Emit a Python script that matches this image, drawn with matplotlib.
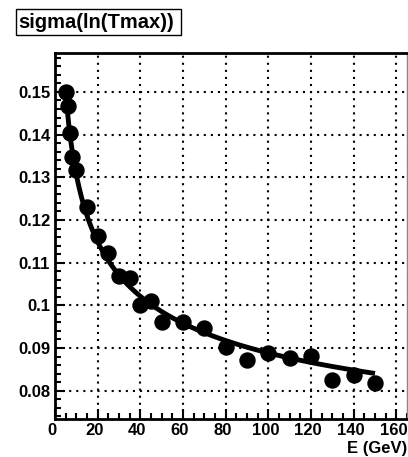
import numpy as np
import matplotlib
matplotlib.use("Agg")
import matplotlib.pyplot as plt
import matplotlib.transforms as mtransforms
from matplotlib.patches import Rectangle
from matplotlib.ticker import MultipleLocator

# Beam energy (GeV) and width of the ln(Tmax) distribution
energy = [5, 6, 7, 8, 10, 15, 20, 25, 30, 35, 40, 45, 50, 60, 70, 80, 90,
          100, 110, 120, 130, 140, 150]
sigma = [0.1500, 0.1467, 0.1404, 0.1348, 0.1318, 0.1230, 0.1162, 0.1123,
         0.1068, 0.1064, 0.1000, 0.1010, 0.0961, 0.0960, 0.0948, 0.0903,
         0.0871, 0.0889, 0.0877, 0.0881, 0.0826, 0.0836, 0.0818]

# Fit: sigma(E) = c + b * E^(-p)
fit_c, fit_b, fit_p = 0.0469, 0.167, 0.30
fit_range = (5, 150)

xticks = [0, 20, 40, 60, 80, 100, 120, 140, 160]
yticks = [0.08, 0.09, 0.10, 0.11, 0.12, 0.13, 0.14, 0.15]
ytick_labels = ["0.08", "0.09", "0.1", "0.11", "0.12", "0.13", "0.14", "0.15"]

plt.rcParams["font.family"] = ["Liberation Sans", "DejaVu Sans"]
plt.rcParams["font.weight"] = "bold"

W, H = 408, 457
fig = plt.figure(figsize=(W / 100, H / 100), dpi=100)
ax = fig.add_axes([55 / W, 1 - 419.3 / H, (407 - 55) / W, (419.3 - 52.7) / H])

ax.set_xlim(0, 165)
ax.set_ylim(0.0733, 0.1592)

ax.grid(True, which="major", color="black", linewidth=1.5,
        linestyle=(0, (1, 2.4)))
ax.set_axisbelow(True)

ef = np.linspace(fit_range[0], fit_range[1], 300)
ax.plot(ef, fit_c + fit_b * ef ** (-fit_p), color="black", lw=3.5,
        solid_capstyle="butt", zorder=3)
ax.plot(energy, sigma, "o", color="black", markersize=10.8, zorder=4)

ax.set_xticks(xticks)
ax.set_xticklabels([str(v) for v in xticks])
ax.set_yticks(yticks)
ax.set_yticklabels(ytick_labels)
ax.xaxis.set_minor_locator(MultipleLocator(5))
ax.yaxis.set_minor_locator(MultipleLocator(0.002))

ax.tick_params(axis="both", which="both", direction="in", color="black",
               top=False, right=False, labelsize=12)
ax.tick_params(axis="both", which="major", length=7, width=1.5)
ax.tick_params(axis="both", which="minor", length=4, width=1.5)
ax.tick_params(axis="x", pad=3)
ax.tick_params(axis="y", pad=3.5)
shift = mtransforms.ScaledTranslation(-3 / 100, 0, fig.dpi_scale_trans)
for lab in ax.get_xticklabels():
    lab.set_fontweight("bold")
    lab.set_transform(lab.get_transform() + shift)
for lab in ax.get_yticklabels():
    lab.set_fontweight("bold")

for side in ("left", "bottom", "top"):
    ax.spines[side].set_linewidth(2.0)
    ax.spines[side].set_color("black")
ax.spines["right"].set_linewidth(1.0)
ax.spines["right"].set_color("#888888")

fig.text(407 / W, 1 - 449 / H, "E (GeV)", ha="right", va="center",
         fontsize=12, fontweight="bold")

# Title box with a thin drop shadow
bx0, by0 = 16 / W, 1 - 35 / H
bw, bh = (180.5 - 16) / W, (35 - 9.3) / H
fig.patches.append(Rectangle((bx0 + 1.2 / W, by0 - 1.2 / H), bw, bh,
                             transform=fig.transFigure, facecolor="black",
                             edgecolor="none", zorder=1))
fig.patches.append(Rectangle((bx0, by0), bw, bh, transform=fig.transFigure,
                             facecolor="white", edgecolor="black", lw=1.0,
                             zorder=2))
fig.text(bx0 + bw / 2 - 2 / W, by0 + bh / 2, "sigma(ln(Tmax))", ha="center",
         va="center", fontsize=14.5, fontweight="bold", zorder=3)

fig.savefig("out.png", dpi=100)
